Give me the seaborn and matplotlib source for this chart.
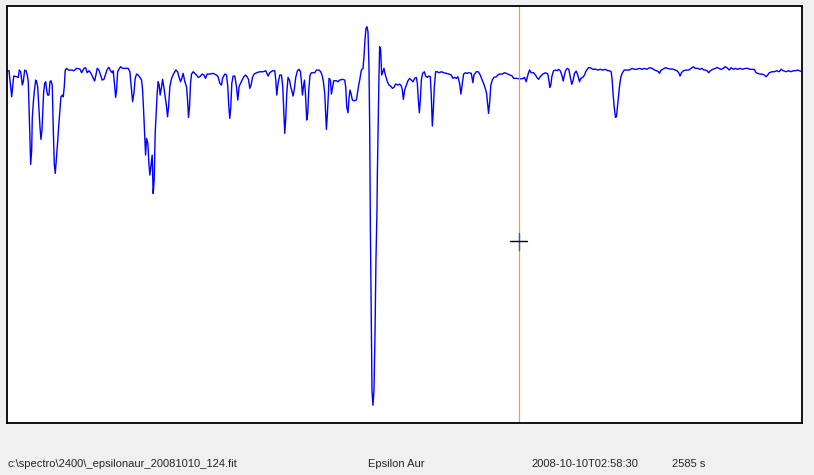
import pandas as pd
import matplotlib.pyplot as plt
import seaborn as sns

# Spectrum of Epsilon Aur around H-alpha (wavelength in Angstrom, relative intensity)
wave = [6526.43, 6526.60, 6526.70, 6526.87, 6526.97, 6527.07, 6527.37, 6527.53, 6527.63, 6527.77,
        6527.93, 6528.03, 6528.17, 6528.30, 6528.43, 6528.53, 6528.60, 6528.70, 6528.77, 6528.87,
        6528.93, 6529.03, 6529.13, 6529.27, 6529.37, 6529.47, 6529.60, 6529.70, 6529.80, 6529.90,
        6530.00, 6530.07, 6530.17, 6530.27, 6530.37, 6530.47, 6530.60, 6530.70, 6530.80, 6530.93,
        6531.03, 6531.13, 6531.23, 6531.37, 6531.47, 6531.57, 6531.70, 6531.80, 6531.93, 6532.03,
        6532.13, 6532.23, 6532.37, 6532.53, 6532.87, 6533.10, 6533.37, 6533.70, 6533.87, 6534.10,
        6534.27, 6534.43, 6534.60, 6534.77, 6534.93, 6535.17, 6535.30, 6535.43, 6535.60, 6535.77,
        6535.93, 6536.10, 6536.27, 6536.43, 6536.60, 6536.77, 6536.93, 6537.03, 6537.17, 6537.27,
        6537.37, 6537.47, 6537.60, 6537.77, 6537.97, 6538.30, 6538.53, 6538.70, 6538.87, 6538.97,
        6539.10, 6539.23, 6539.37, 6539.53, 6539.70, 6539.87, 6539.97, 6540.07, 6540.17, 6540.27,
        6540.37, 6540.50, 6540.60, 6540.70, 6540.80, 6540.93, 6541.03, 6541.13, 6541.23, 6541.33,
        6541.43, 6541.53, 6541.63, 6541.73, 6541.87, 6541.97, 6542.10, 6542.23, 6542.37, 6542.47,
        6542.57, 6542.70, 6542.87, 6543.10, 6543.30, 6543.47, 6543.63, 6543.77, 6543.90, 6544.03,
        6544.20, 6544.37, 6544.47, 6544.57, 6544.67, 6544.77, 6544.87, 6545.03, 6545.20, 6545.37,
        6545.53, 6545.70, 6545.93, 6546.10, 6546.27, 6546.43, 6546.70, 6547.03, 6547.37, 6547.53,
        6547.70, 6547.87, 6547.97, 6548.20, 6548.37, 6548.50, 6548.60, 6548.70, 6548.80, 6548.90,
        6549.03, 6549.20, 6549.37, 6549.50, 6549.63, 6549.77, 6549.93, 6550.10, 6550.27, 6550.43,
        6550.57, 6550.70, 6550.83, 6550.97, 6551.13, 6551.37, 6551.70, 6552.03, 6552.30, 6552.53,
        6552.70, 6552.97, 6553.20, 6553.30, 6553.40, 6553.53, 6553.70, 6553.87, 6554.00, 6554.10,
        6554.20, 6554.30, 6554.40, 6554.53, 6554.67, 6554.80, 6554.93, 6555.03, 6555.17, 6555.30,
        6555.47, 6555.63, 6555.77, 6555.87, 6555.97, 6556.07, 6556.17, 6556.27, 6556.40, 6556.50,
        6556.60, 6556.73, 6556.87, 6557.20, 6557.37, 6557.63, 6557.80, 6557.93, 6558.07, 6558.20,
        6558.30, 6558.37, 6558.47, 6558.57, 6558.63, 6558.77, 6558.87, 6558.97, 6559.10, 6559.37,
        6559.53, 6559.70, 6559.97, 6560.20, 6560.30, 6560.40, 6560.53, 6560.63, 6560.73, 6560.83,
        6560.97, 6561.13, 6561.37, 6561.47, 6561.60, 6561.70, 6561.87, 6562.03, 6562.13, 6562.23,
        6562.33, 6562.43, 6562.53, 6562.63, 6562.70, 6562.77, 6562.87, 6562.93, 6563.03, 6563.13,
        6563.23, 6563.33, 6563.43, 6563.47, 6563.63, 6563.70, 6563.80, 6563.90, 6564.03, 6564.13,
        6564.27, 6564.47, 6564.63, 6564.80, 6564.97, 6565.13, 6565.30, 6565.53, 6565.70, 6565.87,
        6565.97, 6566.07, 6566.20, 6566.37, 6566.53, 6566.70, 6566.87, 6567.03, 6567.20, 6567.37,
        6567.47, 6567.57, 6567.67, 6567.77, 6567.87, 6568.00, 6568.17, 6568.30, 6568.47, 6568.63,
        6568.77, 6568.87, 6568.97, 6569.07, 6569.17, 6569.30, 6569.47, 6569.63, 6569.87, 6570.13,
        6570.37, 6570.63, 6570.87, 6571.03, 6571.20, 6571.37, 6571.53, 6571.70, 6571.83, 6571.93,
        6572.10, 6572.27, 6572.43, 6572.63, 6572.87, 6573.03, 6573.13, 6573.37, 6573.57, 6573.77,
        6573.93, 6574.10, 6574.27, 6574.40, 6574.50, 6574.60, 6574.70, 6574.83, 6574.97, 6575.13,
        6575.37, 6575.53, 6575.70, 6575.97, 6576.20, 6576.37, 6576.53, 6576.77, 6576.97, 6577.10,
        6577.37, 6577.70, 6578.03, 6578.20, 6578.37, 6578.53, 6578.70, 6578.87, 6579.10, 6579.30,
        6579.43, 6579.60, 6579.77, 6580.03, 6580.30, 6580.53, 6580.63, 6580.73, 6580.83, 6580.93,
        6581.10, 6581.30, 6581.47, 6581.60, 6581.77, 6581.93, 6582.07, 6582.17, 6582.30, 6582.47,
        6582.63, 6582.77, 6582.93, 6583.07, 6583.20, 6583.37, 6583.53, 6583.70, 6583.83, 6584.03,
        6584.20, 6584.37, 6584.60, 6584.80, 6585.03, 6585.27, 6585.53, 6585.77, 6586.03, 6586.30,
        6586.53, 6586.70, 6586.87, 6586.97, 6587.07, 6587.17, 6587.30, 6587.40, 6587.50, 6587.60,
        6587.70, 6587.83, 6587.97, 6588.17, 6588.43, 6588.70, 6588.97, 6589.20, 6589.43, 6589.70,
        6589.97, 6590.20, 6590.43, 6590.70, 6590.97, 6591.20, 6591.43, 6591.60, 6591.70, 6591.87,
        6592.03, 6592.30, 6592.53, 6592.77, 6593.03, 6593.27, 6593.47, 6593.63, 6593.77, 6593.90,
        6594.10, 6594.37, 6594.63, 6594.87, 6595.10, 6595.30, 6595.53, 6595.77, 6595.97, 6596.13,
        6596.30, 6596.47, 6596.63, 6596.80, 6597.03, 6597.30, 6597.47, 6597.63, 6597.87, 6598.10,
        6598.30, 6598.53, 6598.70, 6598.87, 6599.10, 6599.30, 6599.53, 6599.77, 6600.03, 6600.30,
        6600.53, 6600.77, 6601.03, 6601.20, 6601.37, 6601.57, 6601.77, 6601.97, 6602.20, 6602.37,
        6602.53, 6602.70, 6602.97, 6603.20, 6603.43, 6603.70, 6603.87, 6604.10, 6604.37, 6604.63,
        6604.87, 6605.10, 6605.37, 6605.53, 6605.70, 6605.90]

intensity = [352.3, 352.3, 343.0, 326.3, 337.0, 347.0, 346.3, 345.7, 353.0, 351.3,
             338.0, 341.3, 353.0, 352.3, 348.0, 341.3, 317.0, 283.0, 258.7, 273.0,
             305.0, 320.0, 331.3, 343.0, 341.3, 336.3, 313.0, 296.3, 283.7, 293.0,
             316.3, 331.3, 339.7, 341.3, 333.0, 328.0, 328.0, 341.3, 342.3, 338.0,
             294.7, 259.7, 249.7, 268.0, 281.3, 296.3, 313.0, 326.3, 328.0, 326.3,
             336.3, 353.0, 354.7, 353.0, 353.0, 352.3, 354.7, 354.0, 350.3, 354.7,
             355.3, 350.3, 352.3, 350.3, 347.0, 342.0, 348.0, 354.7, 353.0, 348.0,
             343.0, 343.7, 349.0, 353.7, 355.7, 352.3, 350.3, 352.3, 338.0, 325.7,
             333.0, 351.3, 353.7, 356.3, 354.7, 354.7, 354.7, 351.3, 333.0, 321.3,
             329.7, 344.7, 349.0, 348.0, 345.7, 343.0, 333.0, 313.0, 289.7, 268.0,
             284.7, 279.7, 259.7, 248.0, 256.3, 268.0, 229.7, 243.0, 289.7, 309.7,
             329.7, 341.3, 338.0, 328.0, 336.3, 343.7, 335.7, 326.3, 316.3, 306.3,
             316.3, 336.3, 344.7, 349.7, 353.0, 351.3, 345.7, 341.3, 344.7, 349.7,
             341.3, 336.3, 323.0, 305.7, 316.3, 339.7, 349.0, 351.3, 349.7, 348.0,
             345.7, 346.3, 349.0, 348.0, 344.7, 349.0, 349.0, 349.7, 348.0, 346.3,
             339.7, 338.0, 344.7, 349.0, 348.0, 336.3, 316.3, 304.7, 316.3, 339.7,
             347.0, 347.0, 336.3, 323.0, 336.3, 339.7, 343.0, 346.3, 348.0, 346.3,
             343.7, 334.7, 338.0, 345.7, 349.0, 350.3, 351.3, 351.3, 352.3, 347.0,
             350.3, 352.3, 352.3, 343.0, 328.0, 339.7, 348.0, 348.0, 336.3, 313.0,
             289.7, 304.7, 329.7, 345.7, 343.0, 336.3, 331.3, 327.0, 334.7, 345.7,
             352.3, 353.7, 351.3, 341.3, 328.0, 336.3, 343.0, 329.7, 303.0, 309.7,
             333.0, 348.0, 350.3, 350.3, 353.0, 353.0, 351.3, 348.0, 341.3, 329.7,
             309.7, 293.7, 309.7, 329.7, 344.7, 343.0, 329.0, 334.7, 342.3, 342.3,
             341.3, 343.0, 343.7, 343.0, 336.3, 316.3, 310.3, 324.7, 333.0, 329.7,
             323.0, 322.3, 323.0, 329.7, 338.0, 343.0, 353.0, 354.7, 366.3, 383.0,
             394.7, 396.3, 391.3, 356.3, 296.3, 194.7, 94.7, 33.0, 18.0, 33.0,
             87.0, 164.0, 213.0, 250.0, 346.3, 376.3, 373.0, 348.0, 351.3, 354.7,
             348.0, 341.3, 338.0, 337.0, 334.7, 335.7, 339.0, 338.0, 339.0, 337.0,
             333.0, 323.7, 333.0, 338.0, 342.3, 344.7, 343.0, 341.3, 344.7, 345.7,
             339.7, 323.0, 310.3, 323.0, 343.0, 349.7, 351.3, 347.0, 345.7, 347.0,
             346.3, 326.3, 297.0, 313.0, 336.3, 351.3, 351.3, 350.3, 351.3, 350.3,
             349.7, 349.0, 348.0, 344.7, 345.7, 344.7, 346.3, 339.7, 329.0, 336.3,
             349.0, 350.3, 349.7, 350.3, 349.7, 340.3, 348.0, 351.3, 351.3, 348.0,
             343.7, 339.7, 334.7, 329.7, 319.7, 309.7, 319.7, 338.0, 343.0, 345.7,
             346.3, 348.0, 349.0, 349.0, 350.3, 349.7, 349.0, 348.0, 347.0, 344.7,
             344.7, 344.3, 344.3, 345.7, 341.3, 348.0, 353.0, 350.3, 350.3, 348.0,
             345.7, 343.7, 346.3, 349.0, 350.3, 349.0, 343.0, 335.7, 338.0, 346.3,
             352.3, 353.0, 352.3, 353.7, 352.3, 348.0, 342.0, 347.0, 352.3, 354.7,
             353.7, 346.3, 338.7, 343.0, 349.7, 352.0, 348.0, 341.3, 344.7, 345.7,
             348.0, 352.3, 355.3, 355.3, 353.7, 354.0, 353.0, 353.7, 353.0, 353.7,
             352.3, 352.3, 351.3, 343.0, 328.0, 316.3, 305.7, 306.3, 316.3, 326.3,
             336.3, 345.7, 349.7, 353.0, 353.0, 353.0, 354.7, 353.7, 353.7, 354.7,
             353.7, 354.7, 353.7, 355.3, 354.7, 353.0, 352.3, 351.3, 349.7, 353.0,
             353.7, 355.3, 354.7, 354.0, 354.0, 353.0, 352.3, 350.3, 347.0, 350.3,
             352.3, 353.0, 353.0, 354.7, 356.3, 354.7, 354.7, 353.7, 354.7, 353.0,
             353.0, 352.3, 350.3, 352.3, 353.7, 354.7, 355.7, 354.7, 353.7, 354.7,
             356.3, 354.7, 353.0, 355.3, 353.7, 354.7, 353.7, 354.7, 353.7, 354.7,
             354.7, 353.7, 353.7, 353.7, 350.3, 349.7, 349.0, 349.0, 348.0, 346.3,
             348.0, 350.3, 351.3, 351.3, 352.3, 351.3, 353.7, 352.3, 351.3, 352.3,
             351.3, 352.3, 352.3, 353.0, 352.3, 351.7]

# display window and cursor
wave_range = (6526.4, 6606.0)
intensity_range = (0, 417)
cursor_wave = 6577.6
cursor_level = 182

# status bar fields
status_file = "c:\\spectro\\2400\\_epsilonaur_20081010_124.fit"
status_object = "Epsilon Aur"
status_date = "2008-10-10T02:58:30"
status_exposure = "2585 s"

spectrum = pd.DataFrame({"wave": wave, "intensity": intensity})

sns.set_style("white")
plt.rcParams["font.family"] = ["Liberation Sans", "DejaVu Sans"]

fig = plt.figure(figsize=(8.14, 4.75), dpi=100, facecolor="#f0f0f0")
ax = fig.add_axes([7 / 814, 1 - 423.3 / 475, 795.3 / 814, 417.3 / 475])
ax.set_facecolor("white")

sns.lineplot(data=spectrum, x="wave", y="intensity", sort=False, estimator=None,
             color="#0000ff", linewidth=1.0, ax=ax)

# cursor line and crosshair
ax.axvline(cursor_wave, color="#e8a33c", linewidth=0.9)
ax.plot([cursor_wave, cursor_wave], [cursor_level - 8.5, cursor_level + 8.5],
        color="#1a5fe0", linewidth=1.0)
ax.plot([cursor_wave - 0.85, cursor_wave + 0.85], [cursor_level, cursor_level],
        color="black", linewidth=1.0)

ax.set_xlim(*wave_range)
ax.set_ylim(*intensity_range)
ax.set_xticks([])
ax.set_yticks([])
ax.set_xlabel("")
ax.set_ylabel("")
for side in ax.spines.values():
    side.set_color("black")
    side.set_linewidth(1.3)

# status bar
ty = 1 - 464 / 475
fig.text(8 / 814, ty, status_file, fontsize=8, va="center", ha="left")
fig.text(368 / 814, ty, status_object, fontsize=8, va="center", ha="left")
fig.text(531 / 814, ty, status_date, fontsize=8, va="center", ha="left")
fig.text(672 / 814, ty, status_exposure, fontsize=8, va="center", ha="left")

fig.savefig("out.png", dpi=100, facecolor=fig.get_facecolor())
